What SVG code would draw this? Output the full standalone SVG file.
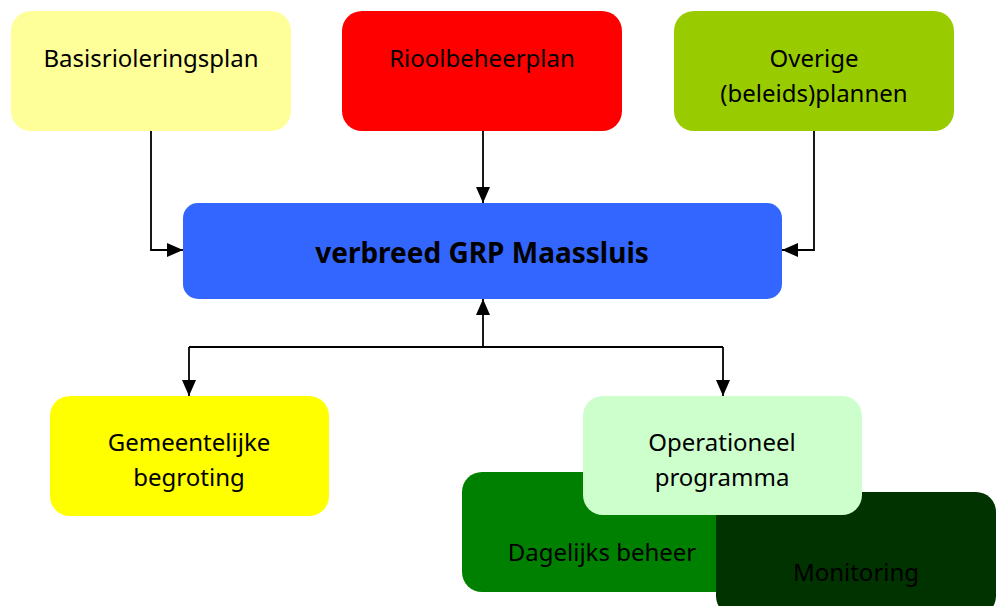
<svg xmlns="http://www.w3.org/2000/svg" width="998" height="606" viewBox="0 0 998 606">
<style>
.t{font-family:"Noto Sans","Open Sans","DejaVu Sans",sans-serif;font-size:24px;fill:#000;text-anchor:middle}
.b{font-weight:bold;font-size:28px}
.c{fill:none;stroke:#000;stroke-width:1.8}
</style>
<defs>
<marker id="ah" viewBox="0 0 16 14" refX="16" refY="7" markerWidth="16" markerHeight="14" markerUnits="userSpaceOnUse" orient="auto">
<path d="M0,0 L16,7 L0,14 Z" fill="#000"/>
</marker>
</defs>
<rect width="998" height="606" fill="#fff"/>
<g id="connectors">
<path class="c" d="M151,131 V250 H183" marker-end="url(#ah)"/>
<path class="c" d="M483,131 V203" marker-end="url(#ah)"/>
<path class="c" d="M814,131 V250 H782" marker-end="url(#ah)"/>
<path class="c" d="M483,347 V299" marker-end="url(#ah)"/>
<path class="c" d="M189,347 H723"/>
<path class="c" d="M189,347 V396" marker-end="url(#ah)"/>
<path class="c" d="M723,347 V396" marker-end="url(#ah)"/>
</g>
<g id="basisrioleringsplan">
<rect x="11" y="11" width="280" height="120" rx="20" fill="#FFFF99"/>
<text class="t" x="151" y="67">Basisrioleringsplan</text>
</g>
<g id="rioolbeheerplan">
<rect x="342" y="11" width="280" height="120" rx="20" fill="#FF0000"/>
<text class="t" x="482" y="67">Rioolbeheerplan</text>
</g>
<g id="overige">
<rect x="674" y="11" width="280" height="120" rx="20" fill="#99CC00"/>
<text class="t" x="814" y="67">Overige</text>
<text class="t" x="814" y="102">(beleids)plannen</text>
</g>
<g id="grp">
<rect x="183" y="203" width="599" height="96" rx="15" fill="#3366FF"/>
<text class="t b" x="482" y="263">verbreed GRP Maassluis</text>
</g>
<g id="gemeentelijke">
<rect x="50" y="396" width="279" height="120" rx="20" fill="#FFFF00"/>
<text class="t" x="189" y="451">Gemeentelijke</text>
<text class="t" x="189" y="486">begroting</text>
</g>
<g id="dagelijks">
<rect x="462" y="472" width="280" height="120" rx="20" fill="#008000"/>
<text class="t" x="602" y="561">Dagelijks beheer</text>
</g>
<g id="monitoring">
<rect x="716" y="492" width="280" height="124" rx="20" fill="#003300"/>
<text class="t" x="856" y="581">Monitoring</text>
</g>
<g id="operationeel">
<rect x="583" y="396" width="279" height="119" rx="20" fill="#CCFFCC"/>
<text class="t" x="722" y="451">Operationeel</text>
<text class="t" x="722" y="486">programma</text>
</g>
</svg>
